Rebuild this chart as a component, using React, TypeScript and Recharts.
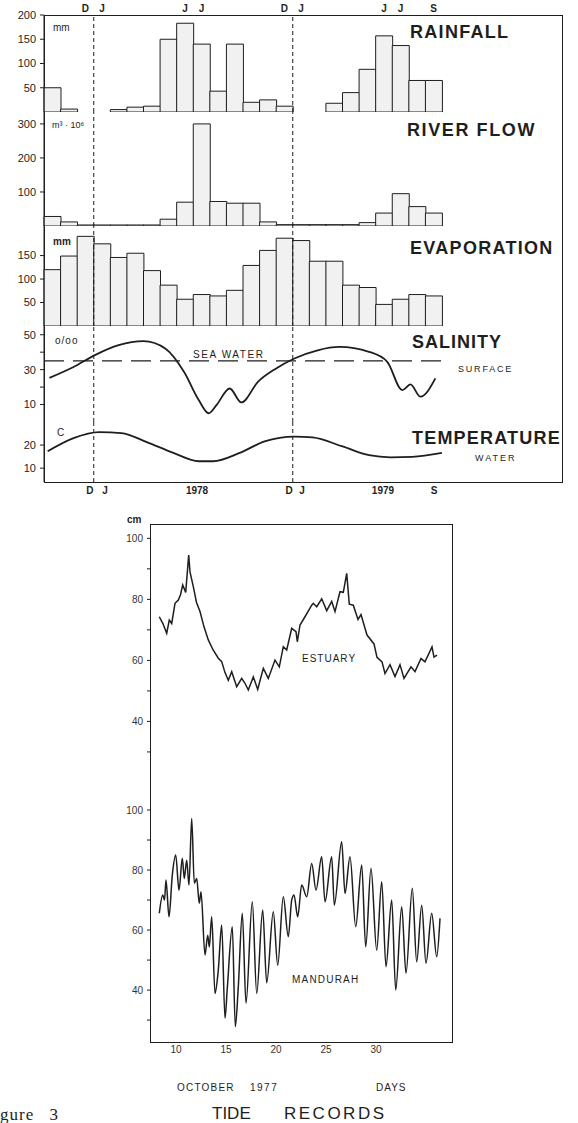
import React from "react";
import { BarChart, Bar, LineChart, Line, XAxis, YAxis, ReferenceLine } from "recharts";

// months Oct 1977 .. Sep 1979, one bar each
const months = ["O", "N", "D", "J", "F", "M", "A", "M", "J", "J", "A", "S", "O", "N", "D", "J", "F", "M", "A", "M", "J", "J", "A", "S"];
const topTicks = ["", "", "D", "J", "", "", "", "", "J", "J", "", "", "", "", "D", "J", "", "", "", "", "J", "J", "", "S"];

const rainfall = [50, 6, 0, 0, 5, 10, 12, 150, 183, 140, 43, 140, 20, 25, 12, 0, 0, 18, 40, 88, 157, 137, 65, 65];
const riverFlow = [28, 12, 3, 3, 3, 3, 3, 20, 70, 300, 72, 67, 67, 12, 4, 4, 4, 4, 4, 10, 38, 95, 57, 38];
const evaporation = [120, 149, 191, 175, 146, 155, 118, 87, 57, 67, 64, 76, 129, 161, 187, 182, 138, 138, 87, 82, 46, 57, 67, 64];

// salinity (per mille) and water temperature (C), month position -> value
const salMonth = [0.33, 1.78, 3.07, 4.5, 6.0, 7.33, 8.44, 9.33, 9.93, 10.4, 11.2, 11.9, 12.9, 14.0, 15.1, 16.5, 17.8, 19.6, 20.7, 21.6, 22.1, 22.7, 23.6];
const salValue = [25.3, 31.5, 38.3, 44, 46.3, 42, 28.8, 12.6, 5, 9.7, 19.2, 11.2, 23, 30.7, 36.4, 41.1, 43, 40.2, 34.5, 18.3, 21.5, 14.5, 25];
const seaWater = 35;

const tempMonth = [0.22, 1.78, 3.33, 4.67, 6.2, 7.8, 9.33, 10.2, 11.8, 13.3, 15.1, 16.2, 18, 19.6, 20.9, 22.2, 24];
const tempValue = [17.3, 23, 25.6, 25.2, 21.3, 16.6, 13, 13, 16.6, 21.6, 23.7, 23.3, 19.4, 15.6, 14.7, 14.9, 16.6];

const bottomLabelPos = [2.77, 3.68, 9.23, 14.78, 15.56, 20.44, 23.52];
const bottomLabelText = ["D", "J", "1978", "D", "J", "1979", "S"];

// tide records, October 1977 (day -> cm)
const estDay = [8.33, 8.7, 9.07, 9.33, 9.57, 9.9, 10.23, 10.45, 10.67, 10.97, 11.27, 11.4, 11.73, 12.05, 12.4, 12.8, 13.23, 13.7, 14.23, 14.57, 14.9, 15.23, 15.57, 16.07, 16.57, 16.9, 17.23, 17.73, 18.17, 18.73, 19.23, 19.9, 20.33, 20.73, 21.07, 21.57, 22.0, 22.13, 22.4, 22.9, 23.57, 23.73, 24.07, 24.57, 25.07, 25.57, 25.9, 26.4, 26.73, 27.07, 27.33, 27.73, 28.2, 28.5, 29.1, 29.8, 30.1, 30.6, 30.9, 31.4, 31.9, 32.4, 32.8, 33.5, 33.9, 34.5, 34.9, 35.6, 35.8, 36.1];
const estLevel = [74.3, 72, 68.9, 73.2, 72.1, 78.7, 79.8, 81.5, 84.7, 82.3, 94.5, 89, 84.2, 79, 76, 71, 66.7, 63.5, 60.7, 59.6, 56, 53.5, 56.3, 51.4, 54.1, 52.5, 50.3, 54.6, 50.5, 57.4, 54.1, 60.1, 57.9, 64.5, 63.4, 70.5, 69.4, 66.1, 71.6, 74.3, 78.1, 78.7, 77.6, 80.2, 76.3, 79.3, 76, 82.5, 82.3, 88.5, 78.4, 78.1, 73.4, 75, 68.3, 65.4, 61, 59.5, 55.7, 58.6, 54.7, 58.6, 54.1, 57.9, 56.3, 60.6, 59.5, 64.4, 61.1, 61.7];

const manDay = [8.33, 8.67, 8.85, 9.0, 9.3, 9.63, 9.97, 10.3, 10.63, 10.83, 11.07, 11.3, 11.57, 11.83, 12.07, 12.33, 12.5, 12.9, 13.17, 13.33, 13.57, 13.9, 14.23, 14.57, 14.9, 15.13, 15.63, 15.93, 16.23, 16.63, 17.0, 17.63, 18.07, 18.67, 19.07, 19.73, 20.17, 20.73, 21.23, 21.57, 21.8, 22.17, 22.57, 23.07, 23.57, 24.0, 24.57, 24.9, 25.57, 25.83, 26.57, 26.9, 27.4, 27.97, 28.57, 28.97, 29.5, 30.07, 30.57, 31.0, 31.57, 31.97, 32.57, 33.0, 33.63, 34.07, 34.57, 35.0, 35.57, 36.07, 36.4];
const manLevel = [65.6, 71.7, 70, 76.7, 64.4, 78.3, 85, 73.3, 83.9, 77.2, 83.3, 75, 97.2, 75.6, 77.2, 68.9, 72.8, 51.7, 58.3, 54.4, 64.4, 38.9, 46.7, 61.7, 30.6, 40.6, 61.1, 27.8, 41.1, 65.6, 35.6, 69.4, 38.9, 66.7, 42.4, 66.1, 48.3, 71.1, 57.8, 70, 71.7, 64.4, 75, 71.1, 82.2, 73.3, 84.4, 69.4, 84.4, 68.3, 89.4, 72.2, 84.4, 61.1, 81.7, 54.4, 80.6, 53.3, 76.1, 47.8, 70, 40, 67.8, 45.6, 73.9, 49.4, 68.3, 48.9, 65.6, 51.1, 63.9];
const tideTicks = [30, 40, 50, 60, 70, 80, 90, 100];
const dayTicks = [10, 15, 20, 25, 30];

const W = 578;
const INK = "#1e1e1e";
const FONT = '"Liberation Sans", Arial, sans-serif';
const PLOT_L = 44;
const PLOT_R = 442;

const ids = months.map((_, i) => String(i));
const janEdges = months.map((m, i) => (m === "J" && months[i - 1] === "D" ? i : -1)).filter((i) => i >= 0);
const monthEdges = Array.from({ length: months.length + 1 }, (_, i) => i);
const monthX = (m: number) => PLOT_L + (m * (PLOT_R - PLOT_L)) / months.length;

const rainData = ids.map((id, i) => ({ id, v: rainfall[i] }));
const flowData = ids.map((id, i) => ({ id, v: riverFlow[i] }));
const evapData = ids.map((id, i) => ({ id, v: evaporation[i] }));
const salData = salMonth.map((m, i) => ({ m, v: salValue[i] }));
const tempData = tempMonth.map((m, i) => ({ m, v: tempValue[i] }));
const estData = estDay.map((d, i) => ({ d, v: estLevel[i] }));
const manData = manDay.map((d, i) => ({ d, v: manLevel[i] }));

const PAD = 4;
function place(plotTop: number, plotBottom: number, topH: number, bottomH: number, right: number) {
  return {
    style: { position: "absolute" as const, left: 0, top: plotTop - topH - PAD },
    height: plotBottom - plotTop + topH + bottomH + 2 * PAD,
    margin: { top: PAD, bottom: PAD, left: 0, right },
  };
}

const tickStyle = { fontSize: 11, fill: INK };

function Txt({ x, y, size = 10, bold = false, spacing = 0, family = FONT, center = false, children }: any) {
  return (
    <div
      style={{
        position: "absolute",
        left: x,
        top: y,
        transform: center ? "translate(-50%,-50%)" : "translateY(-50%)",
        fontSize: size,
        fontWeight: bold ? 700 : 400,
        letterSpacing: spacing,
        lineHeight: 1,
        whiteSpace: "nowrap",
        color: INK,
        fontFamily: family,
      }}
    >
      {children}
    </div>
  );
}

function BarPanel({ data, top, bottom, domain, ticks, withTop }: any) {
  const topH = withTop ? 15 : 0;
  const p = place(top, bottom, topH, 0, W - PLOT_R);
  return (
    <div style={p.style}>
      <BarChart width={W} height={p.height} data={data} margin={p.margin} barCategoryGap={0} barGap={0}>
        {withTop && (
          <XAxis
            xAxisId="top"
            orientation="top"
            dataKey="id"
            height={15}
            axisLine={false}
            tickLine={false}
            tickSize={0}
            tickMargin={3}
            interval={0}
            tickFormatter={(v: string) => topTicks[Number(v)]}
            tick={{ fontSize: 10, fill: INK, fontWeight: 700 }}
          />
        )}
        <XAxis dataKey="id" height={0} tick={false} tickLine={false} axisLine={{ stroke: INK }} />
        <YAxis
          width={PLOT_L}
          domain={domain}
          ticks={ticks}
          interval={0}
          allowDataOverflow
          tickSize={4}
          tickMargin={4}
          axisLine={{ stroke: INK }}
          tickLine={{ stroke: INK }}
          tick={tickStyle}
        />
        <Bar dataKey="v" fill="#f1f1f1" stroke={INK} strokeWidth={1} isAnimationActive={false} />
        {janEdges.map((i) => (
          <ReferenceLine key={i} x={ids[i]} position="start" stroke={INK} strokeDasharray="4 3" />
        ))}
      </BarChart>
    </div>
  );
}

function SalinityPanel() {
  const p = place(326, 422, 0, 0, W - PLOT_R);
  return (
    <div style={p.style}>
      <LineChart width={W} height={p.height} data={salData} margin={p.margin}>
        <XAxis type="number" dataKey="m" domain={[0, 24]} allowDataOverflow height={0} tick={false} tickLine={false} axisLine={{ stroke: INK }} />
        <YAxis
          width={PLOT_L}
          domain={[0, 55]}
          ticks={[10, 20, 30, 40, 50]}
          interval={0}
          allowDataOverflow
          tickFormatter={(v: number) => (v % 20 === 10 ? String(v) : "")}
          tickSize={4}
          tickMargin={4}
          axisLine={{ stroke: INK }}
          tickLine={{ stroke: INK }}
          tick={tickStyle}
        />
        <ReferenceLine y={seaWater} stroke={INK} strokeWidth={1.3} strokeDasharray="20 9" />
        {janEdges.map((i) => (
          <ReferenceLine key={i} x={i} stroke={INK} strokeDasharray="4 3" />
        ))}
        <Line type="monotone" dataKey="v" stroke={INK} strokeWidth={1.8} dot={false} isAnimationActive={false} />
      </LineChart>
    </div>
  );
}

function TemperaturePanel() {
  const p = place(422, 482, 0, 0, W - PLOT_R);
  return (
    <div style={p.style}>
      <LineChart width={W} height={p.height} data={tempData} margin={p.margin}>
        <XAxis
          type="number"
          dataKey="m"
          domain={[0, 24]}
          allowDataOverflow
          ticks={monthEdges}
          interval={0}
          mirror
          height={0}
          tickSize={3}
          tickFormatter={() => ""}
          axisLine={{ stroke: INK }}
          tickLine={{ stroke: INK }}
        />
        <YAxis
          width={PLOT_L}
          domain={[4, 30]}
          ticks={[10, 20]}
          interval={0}
          allowDataOverflow
          tickSize={4}
          tickMargin={4}
          axisLine={{ stroke: INK }}
          tickLine={{ stroke: INK }}
          tick={tickStyle}
        />
        {janEdges.map((i) => (
          <ReferenceLine key={i} x={i} stroke={INK} strokeDasharray="4 3" />
        ))}
        <Line type="monotone" dataKey="v" stroke={INK} strokeWidth={1.8} dot={false} isAnimationActive={false} />
      </LineChart>
    </div>
  );
}

function TidePanel({ data, top, bottom, domain, showDays, curve }: any) {
  const p = place(top, bottom, 0, showDays ? 16 : 0, 126);
  return (
    <div style={p.style}>
      <LineChart width={W} height={p.height} data={data} margin={p.margin}>
        <XAxis
          type="number"
          dataKey="d"
          domain={[7.4, 37.6]}
          allowDataOverflow
          hide={!showDays}
          ticks={dayTicks}
          interval={0}
          height={16}
          axisLine={false}
          tickLine={false}
          tickSize={0}
          tickMargin={4}
          tick={{ fontSize: 10, fill: "#333" }}
        />
        <YAxis
          width={150}
          domain={domain}
          ticks={tideTicks}
          interval={0}
          allowDataOverflow
          tickFormatter={(v: number) => (v % 20 === 0 ? String(v) : "")}
          tickSize={3}
          tickMargin={4}
          axisLine={false}
          tickLine={{ stroke: INK }}
          tick={{ fontSize: 10, fill: "#333" }}
        />
        <Line type={curve} dataKey="v" stroke={INK} strokeWidth={1.5} dot={false} isAnimationActive={false} />
      </LineChart>
    </div>
  );
}

export default function App() {
  return (
    <div style={{ position: "absolute", left: 0, top: 0, width: W, height: 1123, overflow: "hidden", background: "#fff", fontFamily: FONT }}>
      <div style={{ position: "absolute", left: PLOT_L, top: 15, width: 519, height: 468, border: `1px solid ${INK}`, boxSizing: "border-box" }} />
      <BarPanel data={rainData} top={15} bottom={112} domain={[0, 200]} ticks={[50, 100, 150, 200]} withTop />
      <BarPanel data={flowData} top={112} bottom={226} domain={[0, 335]} ticks={[100, 200, 300]} />
      <BarPanel data={evapData} top={226} bottom={326} domain={[0, 213]} ticks={[50, 100, 150]} />
      <SalinityPanel />
      <TemperaturePanel />
      {bottomLabelPos.map((m, i) => (
        <Txt key={i} x={monthX(m)} y={491} size={10} bold center>
          {bottomLabelText[i]}
        </Txt>
      ))}

      <Txt x={410} y={32} size={18} bold spacing={1.3}>RAINFALL</Txt>
      <Txt x={407} y={130} size={18} bold spacing={1.6}>RIVER FLOW</Txt>
      <Txt x={410} y={248} size={18} bold spacing={1.3}>EVAPORATION</Txt>
      <Txt x={412} y={342} size={18} bold spacing={1}>SALINITY</Txt>
      <Txt x={412} y={438} size={18} bold spacing={1.2}>TEMPERATURE</Txt>
      <Txt x={458} y={369} size={9} spacing={1.8}>SURFACE</Txt>
      <Txt x={475} y={458} size={9} spacing={2}>WATER</Txt>
      <Txt x={193} y={355} size={10} spacing={1.6}>SEA WATER</Txt>
      <Txt x={53} y={28} size={10}>mm</Txt>
      <Txt x={52} y={125} size={9}>m³ · 10⁶</Txt>
      <Txt x={53} y={242} size={10} bold>mm</Txt>
      <Txt x={55} y={341} size={10} spacing={1}>o/oo</Txt>
      <Txt x={57} y={433} size={10}>C</Txt>

      <div style={{ position: "absolute", left: 150, top: 524, width: 303, height: 519, border: `1px solid ${INK}`, boxSizing: "border-box" }} />
      <TidePanel data={estData} top={524} bottom={780} domain={[20.8, 104.7]} curve="linear" />
      <TidePanel data={manData} top={780} bottom={1042} domain={[22.7, 110]} showDays curve="monotone" />
      <Txt x={127} y={520} size={10} bold>cm</Txt>
      <Txt x={302} y={659} size={10} spacing={1}>ESTUARY</Txt>
      <Txt x={292} y={980} size={10} spacing={1.2}>MANDURAH</Txt>
      <Txt x={177} y={1088} size={10} spacing={1.2}>OCTOBER</Txt>
      <Txt x={250} y={1088} size={10} spacing={1.5}>1977</Txt>
      <Txt x={376} y={1088} size={10} spacing={1}>DAYS</Txt>
      <Txt x={212} y={1113} size={17}>TIDE</Txt>
      <Txt x={284} y={1113} size={17} spacing={2.5}>RECORDS</Txt>
      <Txt x={0} y={1114} size={17} spacing={1} family='"Liberation Serif", "Times New Roman", serif'>
        <span style={{ wordSpacing: 10 }}>gure 3</span>
      </Txt>
    </div>
  );
}
